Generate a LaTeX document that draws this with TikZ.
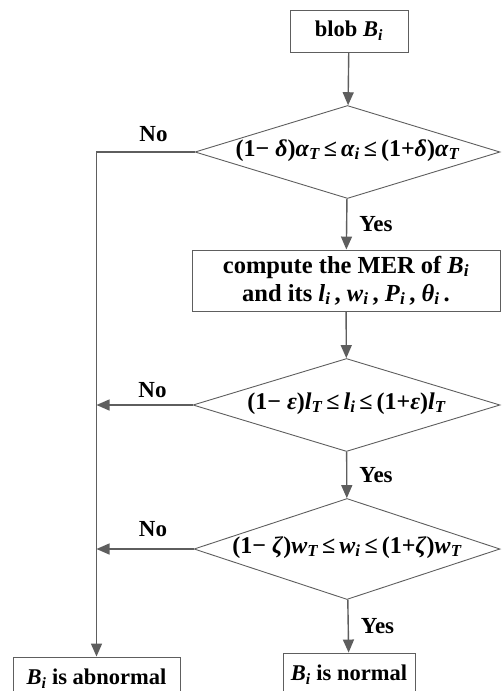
\documentclass[tikz,border=0pt]{standalone}
\usepackage{fontspec}
\setmainfont{Liberation Serif}
\usetikzlibrary{shapes.geometric,arrows.meta}
\definecolor{linegray}{HTML}{5E5E5E}
\newcommand{\sbs}[1]{\textsubscript{\itshape #1}}
\newcommand{\vi}[1]{\textit{#1}}
\tikzstyle{block} = [draw=linegray, line width=0.9pt, rectangle, inner sep=0pt, align=center, font=\fontsize{22.5}{27}\selectfont\bfseries]
\tikzstyle{decision} = [draw=linegray, line width=0.9pt, diamond, inner sep=0pt, aspect=3.3, text height=10pt, text depth=2pt, font=\fontsize{24}{28}\selectfont\bfseries]
\tikzstyle{flow} = [draw=linegray, line width=1.4pt, -{Triangle[length=13pt,width=11pt]}]
\tikzstyle{tag} = [inner sep=1pt, font=\fontsize{23}{26}\selectfont\bfseries]

\begin{document}
\begin{tikzpicture}[x=1pt,y=-1pt]
    \useasboundingbox (0,0) rectangle (501,691);
    \node[block, minimum width=118pt, minimum height=42pt] (blob) at (349,31) {blob \vi{B}\sbs{i}};
    \node[decision, minimum width=305pt, minimum height=93pt] (alpha) at (347.5,152)
        {(1− \vi{δ})\vi{α}\sbs{T}\,≤\,\vi{α}\sbs{i}\,≤\,(1+\vi{δ})\vi{α}\sbs{T}};
    \node[block, minimum width=308pt, minimum height=61pt, font=\fontsize{24.5}{28}\selectfont\bfseries] (mer) at (346,280.5)
        {compute the MER of \vi{B}\sbs{i}\\and its \vi{l}\sbs{i}\,, \vi{w}\sbs{i}\,, \vi{P}\sbs{i}\,, \vi{θ}\sbs{i}\,.};
    \node[decision, minimum width=307pt, minimum height=93pt] (len) at (346.5,405)
        {(1− \vi{ε})\vi{l}\sbs{T}\,≤\,\vi{l}\sbs{i}\,≤\,(1+\vi{ε})\vi{l}\sbs{T}};
    \node[decision, minimum width=306pt, minimum height=101pt] (wid) at (347,549)
        {(1− \vi{ζ})\vi{w}\sbs{T}\,≤\,\vi{w}\sbs{i}\,≤\,(1+\vi{ζ})\vi{w}\sbs{T}};
    \node[block, minimum width=132pt, minimum height=44pt] (normal) at (349,675) {\vi{B}\sbs{i} is normal};
    \node[block, minimum width=167pt, minimum height=44pt] (abnormal) at (96.5,679) {\vi{B}\sbs{i} is abnormal};

    % yes branches
    \draw[flow] (blob) -- (alpha);
    \foreach \source/\sink in {alpha/mer, len/wid, wid/normal} {
        \draw[flow] (\source) -- node[tag, anchor=west, xshift=11pt] {Yes} (\sink);
    }
    \draw[flow] (mer) -- (len);

    % no branches
    \draw[flow] (alpha.west) -- node[tag, above=9pt, xshift=8pt] {No} (alpha.west -| abnormal) -- (abnormal);
    \foreach \source/\gap in {len/6pt, wid/11pt} {
        \draw[flow] (\source.west) -- node[tag, above=\gap, xshift=8pt] {No} (\source.west -| abnormal);
    }
\end{tikzpicture}
\end{document}
